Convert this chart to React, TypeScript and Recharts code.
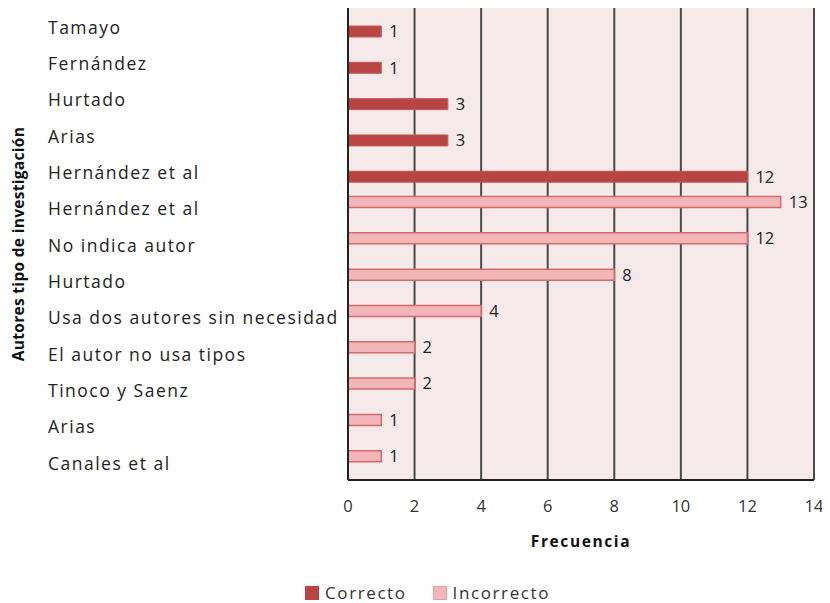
import { BarChart, Bar, XAxis, YAxis, CartesianGrid, LabelList, Label, Legend } from 'recharts';

const authors = [
  'Tamayo', 'Fernández', 'Hurtado', 'Arias', 'Hernández et al',
  'Hernández et al', 'No indica autor', 'Hurtado', 'Usa dos autores sin necesidad',
  'El autor no usa tipos', 'Tinoco y Saenz', 'Arias', 'Canales et al',
];
const correcto = [1, 1, 3, 3, 12, null, null, null, null, null, null, null, null];
const incorrecto = [null, null, null, null, null, 13, 12, 8, 4, 2, 2, 1, 1];
const xTicks = [0, 2, 4, 6, 8, 10, 12, 14];

const data = authors.map((name, i) => ({
  id: i,
  name,
  correcto: correcto[i],
  incorrecto: incorrecto[i],
}));

const FONT = '"Open Sans", sans-serif';

function AuthorTick({ y, payload }: { y?: number; payload?: { value: number } }) {
  return (
    <text x={40} y={y} dy={3} textAnchor="start" dominantBaseline="middle" fontFamily={FONT} fontSize={17.5} letterSpacing={1.5} fill="#222">
      {authors[payload?.value ?? 0]}
    </text>
  );
}

function LegendBox() {
  const item = (color: string, stroke: string, text: string, ml: number) => (
    <span style={{ display: 'inline-flex', alignItems: 'center', marginLeft: ml }}>
      <span style={{ width: 14, height: 14, background: color, border: `1px solid ${stroke}`, boxSizing: 'border-box', marginRight: 6 }} />
      <span style={{ letterSpacing: 1.6 }}>{text}</span>
    </span>
  );
  return (
    <div style={{ fontFamily: FONT, fontSize: 17, color: '#333', display: 'flex', lineHeight: '20px' }}>
      {item('#b94444', '#b94444', 'Correcto', 297)}
      {item('#f2b6b8', '#e9a0a3', 'Incorrecto', 26)}
    </div>
  );
}

export default function App() {
  return (
    <BarChart
      width={822}
      height={595}
      data={data}
      layout="vertical"
      margin={{ top: 0, right: 16, left: 0, bottom: 0 }}
      barGap={0}
      barSize={11}
    >
      <CartesianGrid horizontal={false} vertical stroke="#4a4a4a" strokeWidth={2} fill="#f6e9ea" />
      <XAxis
        type="number"
        domain={[0, 14]}
        ticks={xTicks}
        height={103}
        tickLine={false}
        axisLine={{ stroke: '#222', strokeWidth: 2 }}
        tick={{ fontFamily: FONT, fontSize: 16.5, fill: '#333' }}
        tickMargin={14}
      >
        <Label value="Frecuencia" position="insideTop" offset={56} style={{ fontFamily: FONT, fontSize: 15.5, fontWeight: 700, fill: '#111', letterSpacing: 1.6 }} />
      </XAxis>
      <YAxis
        type="category"
        dataKey="id"
        width={340}
        tickLine={false}
        axisLine={{ stroke: '#222', strokeWidth: 2 }}
        tick={<AuthorTick />}
        interval={0}
      >
        <Label value="Autores tipo de investigación" angle={-90} position="insideLeft" offset={10} style={{ fontFamily: FONT, fontSize: 15.5, fontWeight: 700, fill: '#111', textAnchor: 'middle', letterSpacing: 0.3 }} />
      </YAxis>
      <Legend verticalAlign="bottom" height={20} content={<LegendBox />} />
      <Bar dataKey="incorrecto" name="Incorrecto" fill="#f2b6b8" stroke="#d46a6e" strokeWidth={1.5} isAnimationActive={false}>
        <LabelList dataKey="incorrecto" position="right" offset={8} style={{ fontFamily: FONT, fontSize: 16.5, fill: '#222' }} />
      </Bar>
      <Bar dataKey="correcto" name="Correcto" fill="#b94444" stroke="#c45a5a" strokeWidth={1} isAnimationActive={false}>
        <LabelList dataKey="correcto" position="right" offset={8} style={{ fontFamily: FONT, fontSize: 16.5, fill: '#222' }} />
      </Bar>
    </BarChart>
  );
}
